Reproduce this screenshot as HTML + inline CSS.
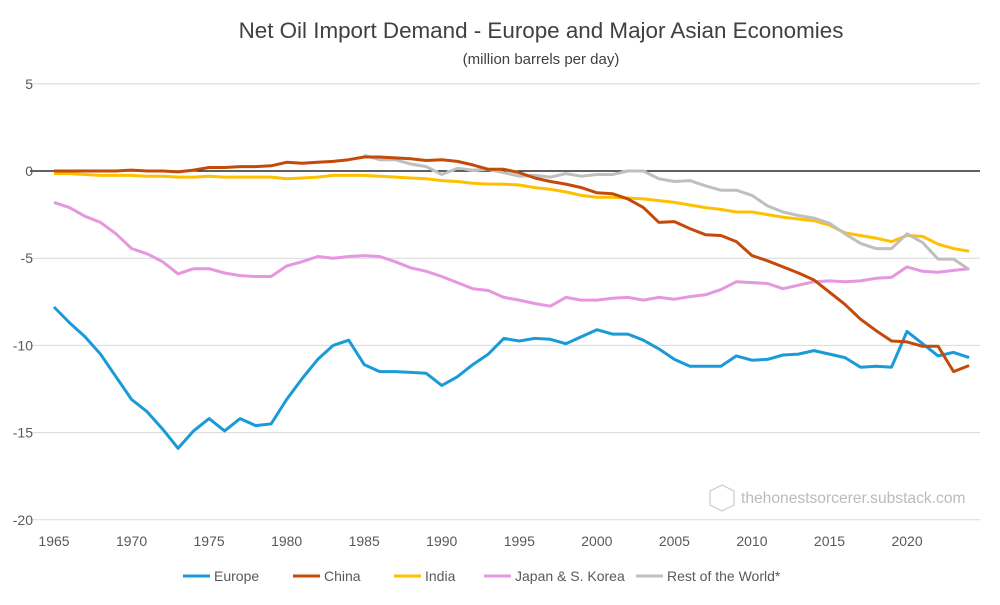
<!DOCTYPE html>
<html><head><meta charset="utf-8"><style>
body{margin:0;background:#fff;font-family:"Liberation Sans",sans-serif}
svg text{font-family:"Liberation Sans",sans-serif}
</style></head><body>
<svg id="chart" width="1000" height="600" xmlns="http://www.w3.org/2000/svg">
<rect width="1000" height="600" fill="#fff"/>
<text x="541" y="38" text-anchor="middle" font-size="22.4" fill="#404040">Net Oil Import Demand - Europe and Major Asian Economies</text>
<text x="541" y="64" text-anchor="middle" font-size="15" fill="#404040">(million barrels per day)</text>
<g id="grid"></g><g id="yt"></g><g id="xt"></g><g id="series"></g>
<g>
<polygon points="722,485 734,491 734,505 722,511 710,505 710,491" fill="none" stroke="#ccc" stroke-width="1.2"/>
<text x="741" y="503" font-size="15.6" fill="#bbb">thehonestsorcerer.substack.com</text>
</g>
<g id="legend"></g>
</svg>
<script>
const years=[];for(let y=1965;y<=2024;y++)years.push(y);
const yTicks=[5,0,-5,-10,-15,-20];
const xTicks=[1965,1970,1975,1980,1985,1990,1995,2000,2005,2010,2015,2020];
const europe=[-7.8,-8.7,-9.5,-10.5,-11.8,-13.1,-13.8,-14.8,-15.9,-14.9,-14.2,-14.9,-14.2,-14.6,-14.5,-13.1,-11.9,-10.8,-10.0,-9.7,-11.1,-11.5,-11.5,-11.55,-11.6,-12.3,-11.8,-11.1,-10.5,-9.6,-9.75,-9.6,-9.65,-9.9,-9.5,-9.1,-9.35,-9.35,-9.7,-10.2,-10.8,-11.2,-11.2,-11.2,-10.6,-10.85,-10.8,-10.55,-10.5,-10.3,-10.5,-10.7,-11.25,-11.2,-11.25,-9.2,-9.9,-10.6,-10.4,-10.7];
const china=[0,0,0,0,0,0.05,0,0,-0.05,0.05,0.2,0.2,0.25,0.25,0.3,0.5,0.45,0.5,0.55,0.65,0.8,0.8,0.75,0.7,0.6,0.65,0.55,0.35,0.1,0.1,-0.1,-0.4,-0.6,-0.75,-0.95,-1.25,-1.3,-1.6,-2.1,-2.95,-2.9,-3.3,-3.65,-3.7,-4.05,-4.85,-5.15,-5.5,-5.85,-6.25,-6.95,-7.65,-8.5,-9.15,-9.75,-9.8,-10.05,-10.05,-11.5,-11.15];
const india=[-0.15,-0.15,-0.2,-0.25,-0.25,-0.25,-0.3,-0.3,-0.35,-0.35,-0.3,-0.35,-0.35,-0.35,-0.35,-0.45,-0.4,-0.35,-0.25,-0.25,-0.25,-0.3,-0.35,-0.4,-0.45,-0.55,-0.6,-0.7,-0.75,-0.75,-0.8,-0.95,-1.05,-1.2,-1.4,-1.5,-1.5,-1.55,-1.6,-1.7,-1.8,-1.95,-2.1,-2.2,-2.35,-2.35,-2.5,-2.65,-2.75,-2.85,-3.1,-3.55,-3.7,-3.85,-4.05,-3.7,-3.75,-4.2,-4.45,-4.6];
const japanKorea=[-1.8,-2.1,-2.6,-2.95,-3.6,-4.45,-4.75,-5.2,-5.9,-5.6,-5.6,-5.85,-6.0,-6.05,-6.05,-5.45,-5.2,-4.9,-5.0,-4.9,-4.85,-4.9,-5.2,-5.55,-5.75,-6.05,-6.4,-6.75,-6.85,-7.25,-7.4,-7.6,-7.75,-7.25,-7.4,-7.4,-7.3,-7.25,-7.4,-7.25,-7.35,-7.2,-7.1,-6.8,-6.35,-6.4,-6.45,-6.75,-6.55,-6.35,-6.3,-6.35,-6.3,-6.15,-6.1,-5.5,-5.75,-5.8,-5.7,-5.6];
const rowYears=[];for(let y=1985;y<=2024;y++)rowYears.push(y);
const restOfWorld=[0.9,0.65,0.65,0.4,0.25,-0.2,0.15,0.05,0.1,-0.1,-0.3,-0.25,-0.35,-0.15,-0.3,-0.2,-0.2,0,0,-0.45,-0.6,-0.55,-0.85,-1.1,-1.1,-1.4,-2.0,-2.35,-2.55,-2.7,-3.0,-3.6,-4.15,-4.45,-4.45,-3.6,-4.1,-5.05,-5.05,-5.65];
const NS='http://www.w3.org/2000/svg';
const X=y=>54+(y-1965)*15.51;
const Y=v=>171-v*17.44;
function mk(t,a,p){const e=document.createElementNS(NS,t);for(const k in a)e.setAttribute(k,a[k]);p.appendChild(e);return e;}
const grid=document.getElementById('grid'),yt=document.getElementById('yt'),xt=document.getElementById('xt');
yTicks.forEach(v=>{
 const l=mk('line',{x1:30,x2:980,y1:Y(v),y2:Y(v),stroke:v===0?'#000':'#d9d9d9','stroke-width':v===0?1.3:1},grid);
 
 
 const t=mk('text',{x:33,y:Y(v)+5,'text-anchor':'end','font-size':14,fill:'#595959'},yt);
 t.textContent=v;
 
 
});
xTicks.forEach(y=>{
 const t=mk('text',{x:X(y),y:546,'text-anchor':'middle','font-size':14,fill:'#595959'},xt);
 t.textContent=y;
 
 
});
const series=[
 {name:'Europe',xs:years,vs:europe,c:'#1a9bd7'},
 {name:'Japan & S. Korea',xs:years,vs:japanKorea,c:'#e597e0'},
 {name:'India',xs:years,vs:india,c:'#ffc000'},
 {name:'Rest of the World*',xs:rowYears,vs:restOfWorld,c:'#bfbfbf'},
 {name:'China',xs:years,vs:china,c:'#c44a0a'}
];
const sg=document.getElementById('series');
series.forEach(s=>{
 const p=mk('polyline',{points:s.xs.map((y,i)=>X(y).toFixed(1)+','+Y(s.vs[i]).toFixed(1)).join(' '),fill:'none',stroke:s.c,'stroke-width':3,'stroke-linejoin':'round'},sg);
 
 
});
const leg=[['Europe','#1a9bd7',183],['China','#c44a0a',293],['India','#ffc000',394],['Japan & S. Korea','#e597e0',484],['Rest of the World*','#bfbfbf',636]];
const lg=document.getElementById('legend');
leg.forEach(([n,c,x])=>{
 const g=mk('g',{},lg);
 
 
 mk('line',{x1:x,x2:x+27,y1:576,y2:576,stroke:c,'stroke-width':3},g);
 const t=mk('text',{x:x+31,y:581,'font-size':14,fill:'#595959'},g);t.textContent=n;
});
</script>
</body></html>
